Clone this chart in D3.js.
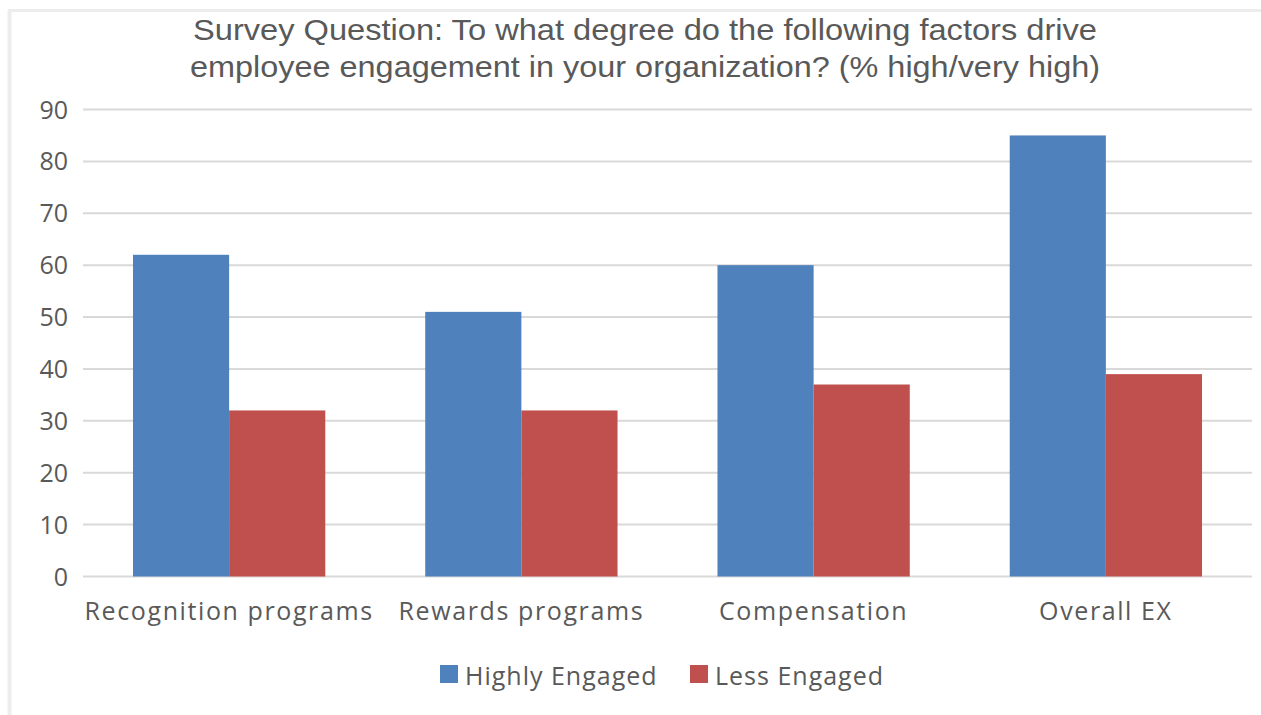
<!DOCTYPE html>
<html>
<head>
<meta charset="utf-8">
<script src="https://cdn.jsdelivr.net/npm/d3@7"></script>
<style>
  body { margin: 0; background: #fff; }
  text { fill: #595959; }
</style>
</head>
<body>
<svg id="chart"></svg>
<script>
var categories = ["Recognition programs", "Rewards programs", "Compensation", "Overall EX"];
var seriesNames = ["Highly Engaged", "Less Engaged"];
var highlyEngaged = [62, 51, 60, 85];
var lessEngaged = [32, 32, 37, 39];
var yTicks = [0, 10, 20, 30, 40, 50, 60, 70, 80, 90];
var titleLines = [
    "Survey Question: To what degree do the following factors drive",
    "employee engagement in your organization? (% high/very high)"
];

var width = 1261, height = 715;
var margin = {top: 109.5, right: 9, bottom: 138.5, left: 83};
var colors = ["#4F81BD", "#C0504D"];

var svg = d3.select("#chart")
    .attr("width", width)
    .attr("height", height);

// faint frame from the source screenshot
svg.append("line").attr("x1", 8).attr("x2", width).attr("y1", 10.5).attr("y2", 10.5)
    .style("stroke", "#EDEDED").style("stroke-width", 3);
svg.append("line").attr("x1", 9.5).attr("x2", 9.5).attr("y1", 10).attr("y2", height)
    .style("stroke", "#EDEDED").style("stroke-width", 4);

// title
svg.selectAll("text.title")
    .data(titleLines)
    .enter().append("text")
    .attr("class", "title")
    .attr("x", 645)
    .attr("y", function (d, i) { return 40 + i * 37; })
    .attr("text-anchor", "middle")
    .attr("textLength", function (d, i) { return i ? 910 : 904; })
    .attr("lengthAdjust", "spacingAndGlyphs")
    .style("font-family", "'Liberation Sans Narrow', 'Liberation Sans', Arial, sans-serif")
    .style("font-size", "29px")
    .text(function (d) { return d; });

var x0 = d3.scaleBand()
    .domain(categories)
    .range([margin.left, width - margin.right])
    .paddingInner(0.342)
    .paddingOuter(0.171);

var x1 = d3.scaleBand()
    .domain(seriesNames)
    .range([0, x0.bandwidth()]);

var y = d3.scaleLinear()
    .domain([0, 90])
    .range([height - margin.bottom, margin.top]);

// gridlines
svg.append("g")
    .selectAll("line")
    .data(yTicks)
    .enter().append("line")
    .attr("x1", margin.left)
    .attr("x2", width - margin.right)
    .attr("y1", function (d) { return y(d); })
    .attr("y2", function (d) { return y(d); })
    .style("stroke", "#D9D9D9")
    .style("stroke-width", 2);

// y tick labels
svg.append("g")
    .selectAll("text")
    .data(yTicks)
    .enter().append("text")
    .attr("x", 68)
    .attr("y", function (d) { return y(d); })
    .attr("dy", "0.36em")
    .attr("text-anchor", "end")
    .style("font-family", "'Open Sans', sans-serif")
    .style("font-size", "25px")
    .text(function (d) { return d; });

// bars
var rows = categories.map(function (c, i) {
    return {cat: c, values: [highlyEngaged[i], lessEngaged[i]]};
});

var group = svg.append("g")
    .selectAll("g")
    .data(rows)
    .enter().append("g")
    .attr("transform", function (d) { return "translate(" + x0(d.cat) + ",0)"; });

group.selectAll("rect")
    .data(function (d) {
        return d.values.map(function (v, j) { return {name: seriesNames[j], value: v, j: j}; });
    })
    .enter().append("rect")
    .attr("x", function (d) { return x1(d.name); })
    .attr("width", x1.bandwidth())
    .attr("y", function (d) { return y(d.value); })
    .attr("height", function (d) { return y(0) - y(d.value); })
    .style("fill", function (d) { return colors[d.j]; });

// category labels
svg.append("g")
    .selectAll("text")
    .data(categories)
    .enter().append("text")
    .attr("x", function (d) { return x0(d) + x0.bandwidth() / 2; })
    .attr("y", 620)
    .attr("text-anchor", "middle")
    .style("font-family", "'Open Sans', sans-serif")
    .style("font-size", "25px")
    .style("letter-spacing", "1.6px")
    .text(function (d) { return d; });

// legend
var legendX = [440, 690];
var legend = svg.append("g")
    .selectAll("g")
    .data(seriesNames)
    .enter().append("g")
    .attr("transform", function (d, i) { return "translate(" + legendX[i] + ",665)"; });

legend.append("rect")
    .attr("width", 18)
    .attr("height", 18)
    .style("fill", function (d, i) { return colors[i]; });

legend.append("text")
    .attr("x", 25)
    .attr("y", 20)
    .style("font-family", "'Open Sans', sans-serif")
    .style("font-size", "25px")
    .style("letter-spacing", "1px")
    .text(function (d) { return d; });
</script>
</body>
</html>
